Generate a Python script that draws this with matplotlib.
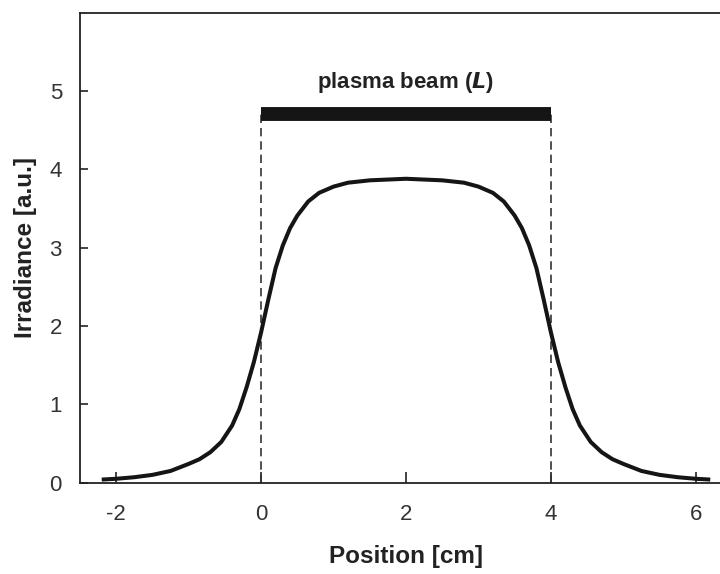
import matplotlib
matplotlib.use("Agg")
import matplotlib.pyplot as plt

plt.rcParams['font.family'] = ['Liberation Sans', 'DejaVu Sans']
plt.rcParams['axes.unicode_minus'] = False

# irradiance profile (left flank, plateau, right flank)
position = [-2.2, -2.0, -1.75, -1.5, -1.25, -1.0, -0.85, -0.7, -0.55, -0.4, -0.3,
            -0.2, -0.1, 0.0, 0.1, 0.2, 0.3, 0.4, 0.5, 0.65, 0.8, 1.0, 1.2, 1.5,
            2.0,
            2.5, 2.8, 3.0, 3.2, 3.35, 3.5, 3.6, 3.7, 3.8, 3.9, 4.0, 4.1, 4.2,
            4.3, 4.4, 4.55, 4.7, 4.85, 5.0, 5.25, 5.5, 5.75, 6.0, 6.2]
irradiance = [0.04, 0.05, 0.07, 0.10, 0.15, 0.24, 0.30, 0.39, 0.52, 0.73, 0.94,
              1.22, 1.54, 1.92, 2.34, 2.74, 3.03, 3.25, 3.41, 3.59, 3.70, 3.78, 3.83, 3.86,
              3.88,
              3.86, 3.83, 3.78, 3.70, 3.59, 3.41, 3.25, 3.03, 2.74, 2.34, 1.92, 1.54, 1.22,
              0.94, 0.73, 0.52, 0.39, 0.30, 0.24, 0.15, 0.10, 0.07, 0.05, 0.04]

beam_start = 0.0
beam_end = 4.0
beam_level = 4.71

xticks = [-2, 0, 2, 4, 6]
yticks = [0, 1, 2, 3, 4, 5]

fig = plt.figure(figsize=(7.2, 5.74), dpi=100)
ax = fig.add_axes([80 / 720, 91.3 / 574, 652 / 720, 470 / 574])

# dashed markers for the beam edges
for xb in (beam_start, beam_end):
    ax.plot([xb, xb], [0, beam_level], color='#333333', lw=1.2,
            dashes=(5, 3), zorder=2)

# beam bar
ax.plot([beam_start, beam_end], [beam_level, beam_level], color='#151515',
        lw=10, solid_capstyle='butt', zorder=3)
ax.text((beam_start + beam_end) / 2, 5.04, r'plasma beam ($\boldsymbol{L}$)',
        ha='center', va='baseline', fontsize=16, fontweight='bold', color='#222222')

ax.plot(position, irradiance, color='#151515', lw=2.9, zorder=4,
        solid_joinstyle='round', solid_capstyle='butt')

ax.set_xlim(-2.5, 6.5)
ax.set_ylim(0, 6)
ax.set_xticks(xticks)
ax.set_yticks(yticks)
ax.tick_params(axis='x', direction='in', length=8, width=1.2, pad=15,
               labelsize=16, colors='#222222', labelcolor='#333333')
ax.tick_params(axis='y', direction='in', length=6, width=1.2, pad=13,
               labelsize=16, colors='#222222', labelcolor='#333333')
for sp in ax.spines.values():
    sp.set_linewidth(1.3)
    sp.set_color('#222222')

ax.set_xlabel('Position [cm]', fontsize=17.5, fontweight='bold', color='#222222',
              labelpad=15)
ax.set_ylabel('Irradiance [a.u.]', fontsize=17.5, fontweight='bold', color='#222222',
              labelpad=9)

fig.savefig('out.png', dpi=100)
